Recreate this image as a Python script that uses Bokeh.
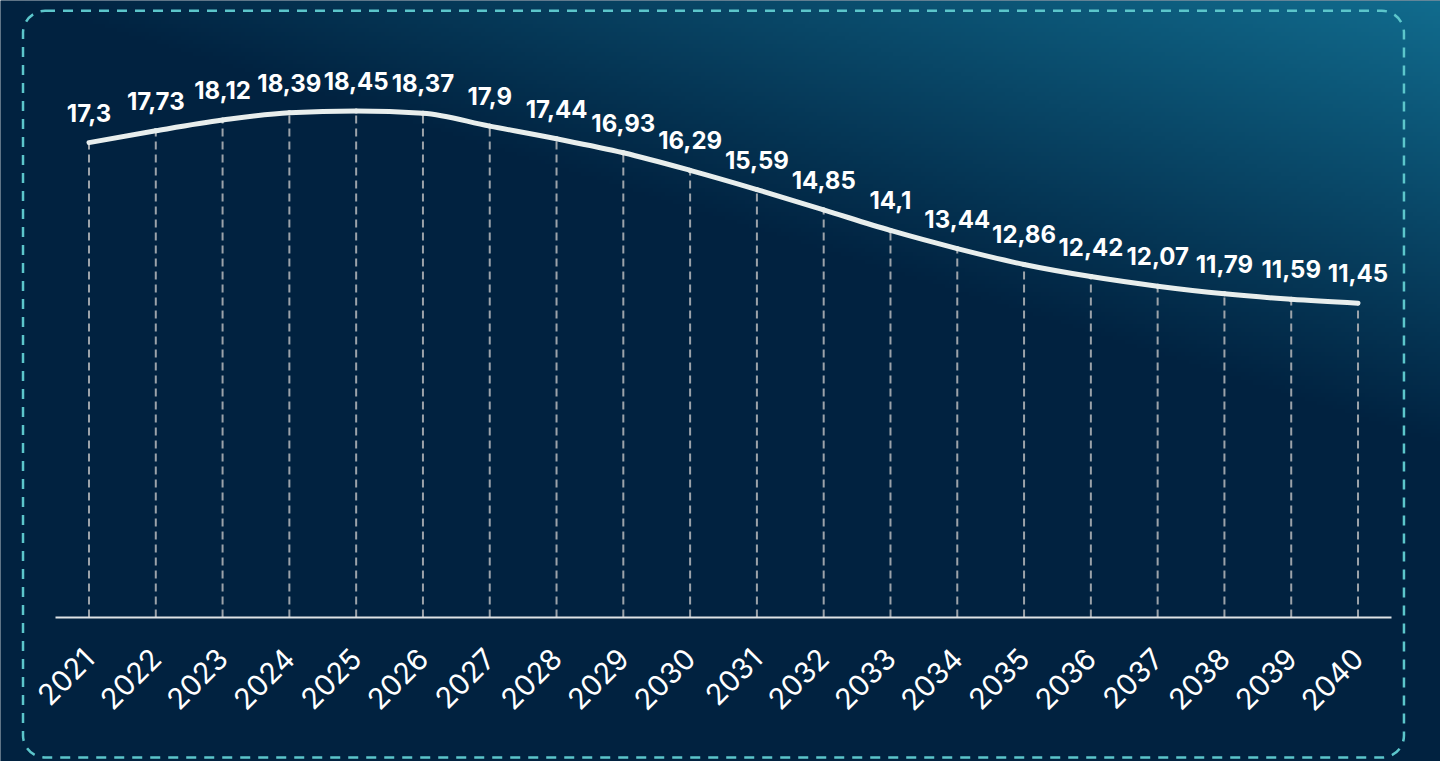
import numpy as np
from bokeh.plotting import figure
from bokeh.models import Range1d, FixedTicker, BoxAnnotation
from bokeh.core.properties import value
from bokeh.embed import file_html
from bokeh.resources import INLINE

# ---------------- data ----------------
years = [2021, 2022, 2023, 2024, 2025, 2026, 2027, 2028, 2029, 2030,
         2031, 2032, 2033, 2034, 2035, 2036, 2037, 2038, 2039, 2040]
values = [17.3, 17.73, 18.12, 18.39, 18.45, 18.37, 17.9, 17.44, 16.93, 16.29,
          15.59, 14.85, 14.1, 13.44, 12.86, 12.42, 12.07, 11.79, 11.59, 11.45]
value_labels = [f"{v:g}".replace(".", ",") for v in values]
year_labels = [str(y) for y in years]

# ---------------- layout / style ----------------
W, H = 1440, 761
X0, X1 = 2019.675, 2041.235
Y_BOT, Y_TOP = -5.246, 22.477
NAVY = (1, 34, 64)
TEAL = (17, 108, 142)
NAVY_HEX = "#%02x%02x%02x" % NAVY

p = figure(width=W, height=H, x_range=Range1d(X0, X1), y_range=Range1d(Y_BOT, Y_TOP),
           output_backend="svg", toolbar_location=None,
           x_axis_location="below", y_axis_location=None,
           min_border=0,
           background_fill_color=NAVY_HEX, border_fill_color=NAVY_HEX,
           outline_line_color=None)
p.grid.visible = False

# background gradient (top-right teal glow fading to navy)
nx, ny = 360, 190
PXs = (np.arange(nx) + 0.5) * W / nx
PYs = H - (np.arange(ny) + 0.5) * H / ny
PX, PY = np.meshgrid(PXs, PYs)
s = 0.31 * PX - PY
t = np.clip(s / 446.0, 0, 1)
img = np.empty((ny, nx), dtype=np.uint32)
view = img.view(dtype=np.uint8).reshape((ny, nx, 4))
for k in range(3):
    view[:, :, k] = (NAVY[k] + (TEAL[k] - NAVY[k]) * t).astype(np.uint8)
view[:, :, 3] = 255
p.image_rgba(image=[img], x=X0, y=Y_BOT, dw=X1 - X0, dh=Y_TOP - Y_BOT, level="image")

# dashed drop lines
p.segment(x0=years, y0=[0] * len(years), x1=years, y1=values,
          line_color="#9ca3aa", line_width=2, line_dash="8 5")

# smooth monotone curve (bezier segments through the data points)
x = np.array(years, dtype=float)
y = np.array(values, dtype=float)
n = len(x)
hs = np.diff(x)
sl = np.diff(y) / hs
m = np.zeros(n)
for i in range(1, n - 1):
    h0, h1 = hs[i - 1], hs[i]
    s0, s1 = sl[i - 1], sl[i]
    pp = (s0 * h1 + s1 * h0) / (h0 + h1)
    m[i] = (np.sign(s0) + np.sign(s1)) * min(abs(s0), abs(s1), 0.5 * abs(pp))
m[0] = (3 * sl[0] - m[1]) / 2
m[-1] = (3 * sl[-1] - m[-2]) / 2
p.bezier(x0=x[:-1], y0=y[:-1], x1=x[1:], y1=y[1:],
         cx0=x[:-1] + hs / 3, cy0=y[:-1] + m[:-1] * hs / 3,
         cx1=x[1:] - hs / 3, cy1=y[1:] - m[1:] * hs / 3,
         line_color="#e8eeed", line_width=5, line_cap="round")

# value labels
p.text(x=years, y=values, text=value_labels, text_align="center",
       text_baseline="alphabetic", y_offset=-30,
       text_color="white", text_font=value("Inter"), text_font_style="bold",
       text_font_size="24px")

# x axis drawn at y = 0 inside the frame
ax = p.xaxis[0]
ax.fixed_location = 0
ax.ticker = FixedTicker(ticks=years)
ax.major_label_overrides = {yr: lab for yr, lab in zip(years, year_labels)}
ax.bounds = (2020.5, 2040.5)
ax.axis_line_color = "#dfe3e6"
ax.axis_line_width = 2
ax.major_tick_line_color = None
ax.minor_tick_line_color = None
ax.major_label_orientation = np.pi / 4
ax.major_label_text_font = "Inter"
ax.major_label_text_font_size = "29px"
ax.major_label_text_color = "white"
ax.major_label_standoff = 30

# rounded dashed frame
p.add_layout(BoxAnnotation(left=2020.012, right=2040.688, top=22.10, bottom=-5.10,
                           fill_alpha=0, line_color="#5cc6cb", line_alpha=1,
                           line_width=2.5, line_dash="10 8", border_radius=22))

open("out.html", "w").write(file_html(p, INLINE))
